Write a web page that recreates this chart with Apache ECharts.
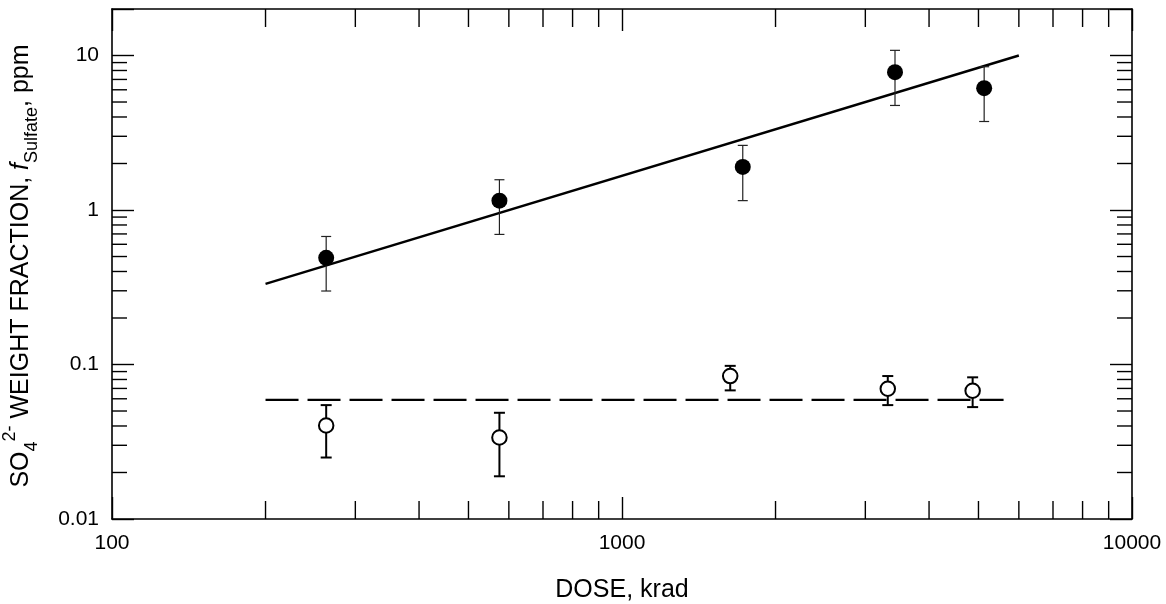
<!DOCTYPE html>
<html>
<head>
<meta charset="utf-8">
<script src="https://cdn.jsdelivr.net/npm/echarts@6.0.0/dist/echarts.min.js"></script>
<style>
  html, body { margin: 0; padding: 0; background: #fff; }
  #chart { width: 1166px; height: 604px; }
</style>
</head>
<body>
<div id="chart"></div>
<script>
// dose (krad) and sulfate fraction (ppm)
let filledX = [263, 575, 1725, 3430, 5130]
let filledY = [0.49, 1.15, 1.90, 7.8, 6.15]
let filledLo = [0.299, 0.695, 1.15, 4.75, 3.74]
let filledHi = [0.674, 1.57, 2.62, 10.8, 8.46]

let openX = [263, 575, 1630, 3320, 4870]
let openY = [0.0403, 0.0337, 0.0842, 0.0697, 0.0676]
let openLo = [0.025, 0.0189, 0.068, 0.0546, 0.053]
let openHi = [0.0546, 0.0487, 0.098, 0.0842, 0.0826]

// fitted line and mean line
let fitX = [200, 6000]
let fitY = [0.333, 10]
let meanX = [200, 5600]
let meanY = [0.059, 0.059]

// axes
let xMin = 100, xMax = 10000
let yMin = 0.01, yMax = 20
let xTickLabels = ['100', '1000', '10000']
let yTickLabels = ['0.01', '0.1', '1', '10']
let xMinorTicks = [200, 300, 400, 500, 600, 700, 800, 900, 2000, 3000, 4000, 5000, 6000, 7000, 8000, 9000]
let yMinorTicks = [0.02, 0.03, 0.04, 0.05, 0.06, 0.07, 0.08, 0.09, 0.2, 0.3, 0.4, 0.5, 0.6, 0.7, 0.8, 0.9, 2, 3, 4, 5, 6, 7, 8, 9]

const FONT = '"Liberation Sans", Arial, Helvetica, sans-serif'

let chart = echarts.init(document.getElementById('chart'))

labelFor = (labels, first) => {
	return function(v) {
		let l = Math.log10(v)
		if (Math.abs(l - Math.round(l)) > 1e-6) return ''
		let i = Math.round(l) - first
		return labels[i] || ''
	}
}

logAxis = (pos, min, max, showLabel, labels, first, margin) => {
	return {
		type: 'log',
		logBase: 10,
		position: pos,
		min: min,
		max: max,
		axisLine: { show: true, onZero: false, lineStyle: { color: '#000', width: 1.6 } },
		axisTick: { show: true, inside: true, length: 22, lineStyle: { color: '#000', width: 1.4 } },
		axisLabel: {
			show: showLabel,
			margin: margin,
			color: '#000',
			fontSize: 21,
			fontFamily: FONT,
			showMinLabel: true,
			showMaxLabel: true,
			formatter: labelFor(labels, first)
		},
		splitLine: { show: false },
		minorTick: { show: false }
	}
}

// error bars: vertical line with caps
errorBars = (xs, ys, lo, hi, width, color, cap) => {
	return {
		type: 'custom',
		z: 3,
		silent: true,
		data: xs.map((x, i) => [x, ys[i], lo[i], hi[i]]),
		renderItem: function(params, api) {
			let x = api.value(0)
			let pLo = api.coord([x, api.value(2)])
			let pHi = api.coord([x, api.value(3)])
			let style = { stroke: color, lineWidth: width }
			return {
				type: 'group',
				children: [
					{ type: 'line', shape: { x1: pLo[0], y1: pLo[1], x2: pHi[0], y2: pHi[1] }, style: style },
					{ type: 'line', shape: { x1: pLo[0] - cap, y1: pLo[1], x2: pLo[0] + cap, y2: pLo[1] }, style: style },
					{ type: 'line', shape: { x1: pHi[0] - cap, y1: pHi[1], x2: pHi[0] + cap, y2: pHi[1] }, style: style }
				]
			}
		}
	}
}

// minor ticks on all four sides (log axes have no 2..9 minor ticks of their own)
let minorTickSeries = {
	type: 'custom',
	z: 1,
	silent: true,
	data: xMinorTicks.map(v => [v, yMin, 0]).concat(yMinorTicks.map(v => [xMin, v, 1])),
	renderItem: function(params, api) {
		let style = { stroke: '#000', lineWidth: 1.4 }
		if (api.value(2) == 0) {
			let v = api.value(0)
			let b = api.coord([v, yMin])
			let t = api.coord([v, yMax])
			return {
				type: 'group',
				children: [
					{ type: 'line', shape: { x1: b[0], y1: b[1], x2: b[0], y2: b[1] - 18 }, style: style },
					{ type: 'line', shape: { x1: t[0], y1: t[1], x2: t[0], y2: t[1] + 18 }, style: style }
				]
			}
		}
		let v = api.value(1)
		let l = api.coord([xMin, v])
		let r = api.coord([xMax, v])
		return {
			type: 'group',
			children: [
				{ type: 'line', shape: { x1: l[0], y1: l[1], x2: l[0] + 15, y2: l[1] }, style: style },
				{ type: 'line', shape: { x1: r[0], y1: r[1], x2: r[0] - 15, y2: r[1] }, style: style }
			]
		}
	}
}

let option = {
	animation: false,
	backgroundColor: '#fff',
	grid: { left: 112, right: 34, top: 9, bottom: 85, containLabel: false },
	xAxis: [
		logAxis('bottom', xMin, xMax, true, xTickLabels, 2, 14),
		logAxis('top', xMin, xMax, false, xTickLabels, 2, 14)
	],
	yAxis: [
		logAxis('left', yMin, yMax, true, yTickLabels, -2, 13),
		logAxis('right', yMin, yMax, false, yTickLabels, -2, 13)
	],
	graphic: [
		{
			type: 'text',
			x: 622,
			y: 590,
			style: {
				text: 'DOSE, krad',
				fill: '#000',
				font: '25px ' + FONT,
				align: 'center',
				verticalAlign: 'middle'
			}
		},
		{
			type: 'text',
			x: 21,
			y: 266,
			rotation: Math.PI / 2,
			style: {
				text: '{a|SO}{sub|4}{sup|2-}{a| WEIGHT FRACTION, }{i|f}{s|Sulfate}{a|, ppm}',
				fill: '#000',
				align: 'center',
				verticalAlign: 'middle',
				rich: {
					a: { fontSize: 25, fontFamily: FONT, lineHeight: 40, fill: '#000' },
					sub: { fontSize: 18, fontFamily: FONT, lineHeight: 28, verticalAlign: 'bottom', fill: '#000' },
					sup: { fontSize: 18, fontFamily: FONT, lineHeight: 23, verticalAlign: 'top', fill: '#000' },
					i: { fontSize: 25, fontFamily: FONT, fontStyle: 'italic', lineHeight: 40, fill: '#000' },
					s: { fontSize: 18, fontFamily: FONT, lineHeight: 31, verticalAlign: 'bottom', fill: '#000' }
				}
			}
		}
	],
	series: [
		minorTickSeries,
		{
			type: 'line',
			z: 2,
			symbol: 'none',
			lineStyle: { color: '#000', width: 2.4 },
			data: fitX.map((x, i) => [x, fitY[i]])
		},
		{
			type: 'line',
			z: 2,
			symbol: 'none',
			lineStyle: { color: '#000', width: 2.4, type: [33, 9] },
			data: meanX.map((x, i) => [x, meanY[i]])
		},
		errorBars(filledX, filledY, filledLo, filledHi, 1.2, '#222', 5),
		errorBars(openX, openY, openLo, openHi, 2, '#000', 5.5),
		{
			type: 'scatter',
			z: 4,
			symbol: 'circle',
			symbolSize: 16,
			itemStyle: { color: '#000', opacity: 1 },
			data: filledX.map((x, i) => [x, filledY[i]])
		},
		{
			type: 'scatter',
			z: 4,
			symbol: 'circle',
			symbolSize: 14.5,
			itemStyle: { color: '#fff', borderColor: '#000', borderWidth: 2, opacity: 1 },
			data: openX.map((x, i) => [x, openY[i]])
		}
	]
}
chart.setOption(option)
</script>
</body>
</html>
